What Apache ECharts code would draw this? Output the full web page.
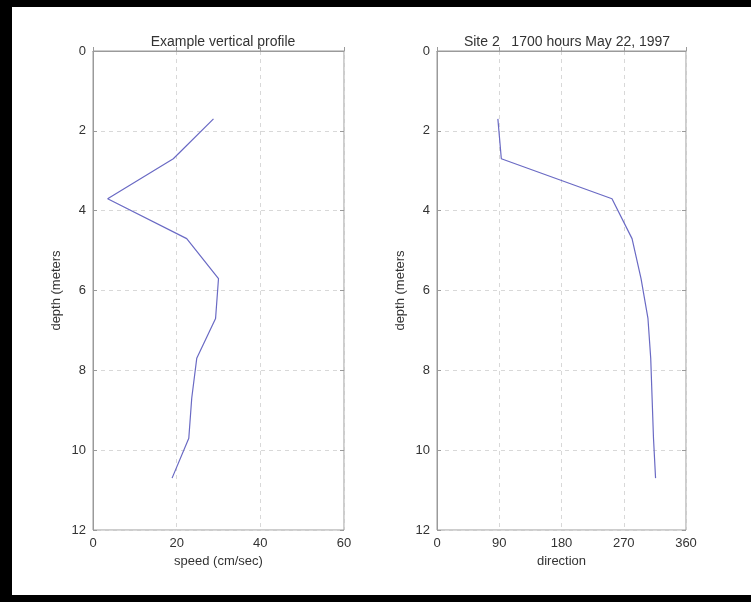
<!DOCTYPE html>
<html>
<head>
<meta charset="utf-8">
<script src="https://cdn.jsdelivr.net/npm/echarts@6/dist/echarts.min.js"></script>
<style>
html,body{margin:0;padding:0;background:#fff;}
#chart{width:751px;height:602px;}
</style>
</head>
<body>
<div id="chart"></div>
<script>
// Data
var depths = [1.7, 2.7, 3.7, 4.7, 5.7, 6.7, 7.7, 8.7, 9.7, 10.7];
var speed = [28.8, 19.2, 3.5, 22.4, 30.0, 29.3, 24.8, 23.6, 22.9, 18.9];
var direction = [88, 93, 253, 282, 295, 305, 309, 311, 313, 316];
var speedTicks = [0, 20, 40, 60];
var directionTicks = [0, 90, 180, 270, 360];
var depthTicks = [0, 2, 4, 6, 8, 10, 12];
var titles = ['Example vertical profile', 'Site 2   1700 hours May 22, 1997'];
var xNames = ['speed (cm/sec)', 'direction'];
var yName = 'depth (meters';

var font = 'Liberation Sans, Arial, sans-serif';
var txt = '#333';
var boxColor = '#9a9a9a';
var gridColor = '#d8d8d8';
var lineColor = '#6a6ac4';

function pairs(xs, ys) {
  return xs.map(function (x, i) { return [x, ys[i]]; });
}

var grids = [
  {left: 93, top: 51, width: 251, height: 479, show: true, borderColor: boxColor, borderWidth: 1},
  {left: 437, top: 51, width: 249, height: 479, show: true, borderColor: boxColor, borderWidth: 1}
];

function xAxisFor(idx, max, interval, name) {
  return {
    type: 'value', gridIndex: idx, min: 0, max: max, interval: interval,
    position: 'bottom',
    name: name, nameLocation: 'middle', nameGap: 25,
    nameTextStyle: {color: txt, fontSize: 13, fontFamily: font},
    axisLine: {show: true, lineStyle: {color: boxColor}},
    axisTick: {show: true, inside: true, length: 4, lineStyle: {color: boxColor}},
    axisLabel: {show: true, color: txt, fontSize: 13, fontFamily: font, margin: 7},
    splitLine: {show: true, lineStyle: {color: gridColor, type: [4, 4]}}
  };
}
function yAxisFor(idx, showLabels, pos) {
  return {
    type: 'value', gridIndex: idx, min: 0, max: 12, interval: 2, inverse: true,
    position: pos,
    name: showLabels ? yName : '', nameLocation: 'middle', nameGap: 30, nameRotate: 90,
    nameTextStyle: {color: txt, fontSize: 13, fontFamily: font},
    axisLine: {show: showLabels, lineStyle: {color: boxColor}},
    axisTick: {show: true, inside: true, length: 4, lineStyle: {color: boxColor}},
    axisLabel: {show: showLabels, color: txt, fontSize: 13, fontFamily: font, margin: 7},
    splitLine: {show: showLabels, lineStyle: {color: gridColor, type: [4, 4]}}
  };
}

var option = {
  backgroundColor: '#fff',
  animation: false,
  title: [
    {text: titles[0], left: 218, top: 30, textAlign: 'center',
     textStyle: {color: txt, fontSize: 14, fontWeight: 'normal', fontFamily: font}},
    {text: titles[1], left: 562, top: 30, textAlign: 'center',
     textStyle: {color: txt, fontSize: 14, fontWeight: 'normal', fontFamily: font}}
  ],
  grid: grids,
  xAxis: [
    xAxisFor(0, 60, 20, xNames[0]),
    xAxisFor(1, 360, 90, xNames[1])
  ],
  yAxis: [
    yAxisFor(0, true, 'left'),
    yAxisFor(1, true, 'left'),
    yAxisFor(0, false, 'right'),
    yAxisFor(1, false, 'right')
  ],
  series: [
    {type: 'line', xAxisIndex: 0, yAxisIndex: 0, data: pairs(speed, depths),
     showSymbol: false, lineStyle: {color: lineColor, width: 1.2}},
    {type: 'line', xAxisIndex: 1, yAxisIndex: 1, data: pairs(direction, depths),
     showSymbol: false, lineStyle: {color: lineColor, width: 1.2}}
  ],
  graphic: [
    {type: 'rect', shape: {x: 0, y: 0, width: 751, height: 7}, style: {fill: '#000'}},
    {type: 'rect', shape: {x: 0, y: 0, width: 12, height: 602}, style: {fill: '#000'}},
    {type: 'rect', shape: {x: 0, y: 595, width: 751, height: 7}, style: {fill: '#000'}}
  ]
};

var chart = echarts.init(document.getElementById('chart'), null, {renderer: 'canvas'});
chart.setOption(option);
</script>
</body>
</html>
